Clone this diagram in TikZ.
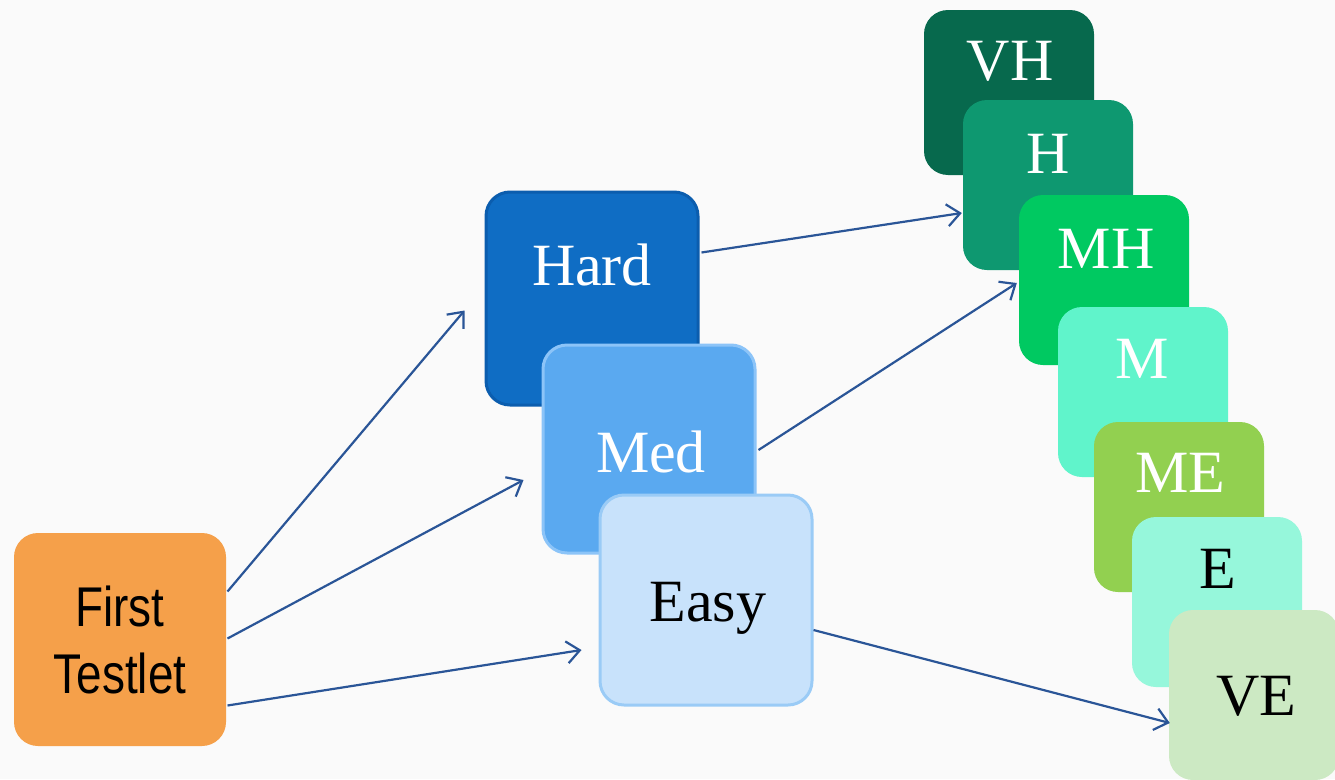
\documentclass[tikz,border=0pt]{standalone}
\usepackage{fontspec}
\setmainfont{Liberation Serif}
\newfontfamily\narrowsans[FakeStretch=0.82]{Liberation Sans}
\usetikzlibrary{arrows.meta,calc}
\definecolor{bg}{HTML}{FAFAFA}
\definecolor{cFirst}{HTML}{F5A04A}
\definecolor{cHard}{HTML}{0F6DC4}
\definecolor{cHardB}{HTML}{0B5DAE}
\definecolor{cMed}{HTML}{5AA9F0}
\definecolor{cMedB}{HTML}{8CC4F8}
\definecolor{cEasy}{HTML}{C8E2FB}
\definecolor{cEasyB}{HTML}{9ACBF6}
\definecolor{cVH}{HTML}{07694D}
\definecolor{cH}{HTML}{0E9870}
\definecolor{cMH}{HTML}{00C961}
\definecolor{cM}{HTML}{60F4CB}
\definecolor{cME}{HTML}{92D050}
\definecolor{cE}{HTML}{96F7DB}
\definecolor{cVE}{HTML}{CCE9C3}
\definecolor{cArr}{HTML}{2A5597}
\begin{document}
\begin{tikzpicture}[x=1pt,y=-1pt,
  box/.style={rectangle, rounded corners=24pt, inner sep=0pt, minimum width=170pt, minimum height=170pt},
  bbox/.style={box, minimum width=212pt, minimum height=210pt, line width=3pt},
  lbl/.style={anchor=base, inner sep=0pt, font=\fontsize{60}{72}\selectfont, text=white},
  arr/.style={draw=cArr, line width=2.2pt, -{Straight Barb[length=13pt,width=22pt]}}]
\fill[bg] (0,0) rectangle (1335,779);
\useasboundingbox (0,0) rectangle (1335,779);
\clip (0,0) rectangle (1335,779);
% first testlet
\node[bbox, minimum height=213pt, fill=cFirst, align=center,
  font=\narrowsans\fontsize{56}{67}\selectfont] (first) at (120,639.5) {First\\Testlet};
% blue stack
\node[bbox, minimum height=213pt, fill=cHard, draw=cHardB] (hard) at (592,298.5) {};
\node[bbox, minimum height=208pt, fill=cMed, draw=cMedB] (med) at (649,449) {};
\node[bbox, fill=cEasy, draw=cEasyB] (easy) at (706,600) {};
\node[lbl] (tHard) at (592,285) {Hard};
\node[lbl] (tMed) at (651,472) {Med};
\node[lbl, text=black] (tEasy) at (708,621) {Easy};
% green stack
\node[box, minimum height=165pt, fill=cVH] (vh) at (1009,92.5) {};
\node[box, fill=cH] (h) at (1048,185) {};
\node[box, fill=cMH] (mh) at (1104,280) {};
\node[box, fill=cM] (m) at (1143,392) {};
\node[box, fill=cME] (me) at (1179,507) {};
\node[box, fill=cE] (e) at (1217,602) {};
\node[box, fill=cVE] (ve) at (1254,695) {};
\node[lbl] (tVH) at (1010,80) {VH};
\node[lbl] (tH) at (1048,173) {H};
\node[lbl] (tMH) at (1106,268) {MH};
\node[lbl] (tM) at (1142,378) {M};
\node[lbl] (tME) at (1180,492) {ME};
\node[lbl, text=black] (tE) at (1218,588) {E};
\node[lbl, text=black] (tVE) at (1256,715) {VE};
% arrows
\draw[arr] ($(first.east)+(0,-48)$) -- ($(hard.west)+(-20,12)$);
\draw[arr] ($(first.east)+(0,-1)$) -- ($(med.west)+(-18,31)$);
\draw[arr] ($(first.east)+(0,66)$) -- ($(easy.west)+(-17,50)$);
\draw[arr] ($(hard.east)+(2,-46)$) -- ($(h.west)+(-1,28)$);
\draw[arr] ($(med.east)+(2,1)$) -- ($(mh.west)+(-2,3)$);
\draw[arr] ($(easy.east)+(0,30)$) -- ($(ve.west)+(1,28)$);
\end{tikzpicture}
\end{document}
